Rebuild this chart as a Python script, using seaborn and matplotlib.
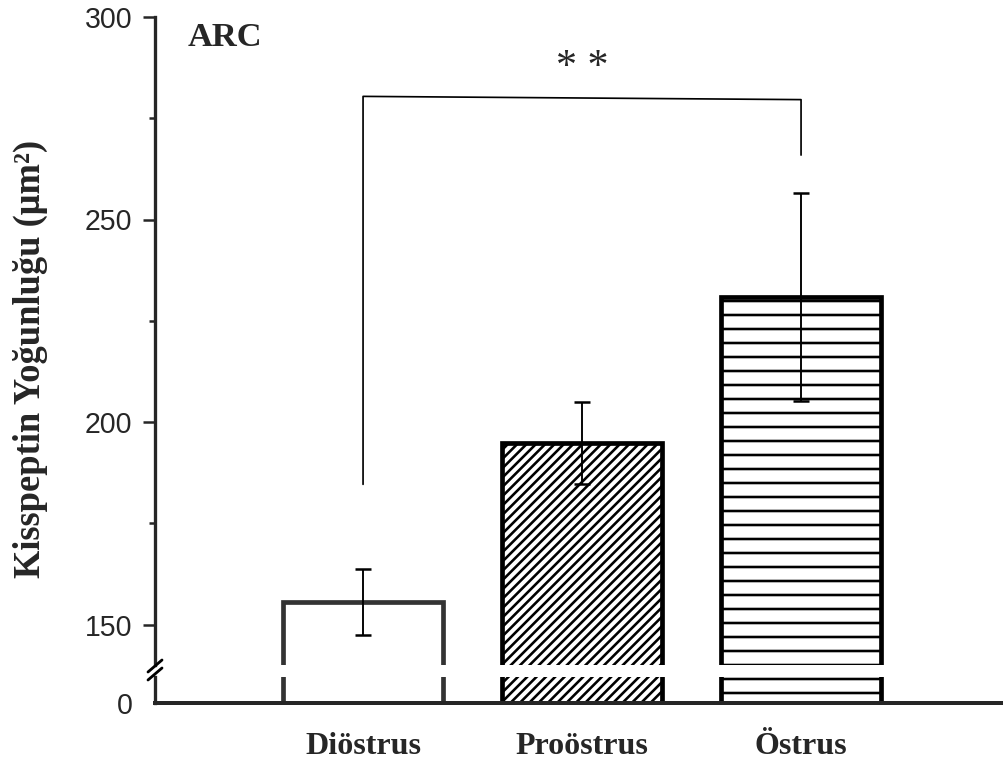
import matplotlib
matplotlib.use("Agg")
import matplotlib.pyplot as plt
from matplotlib.lines import Line2D
import pandas as pd
import seaborn as sns

# ---- data ----
categories = ["Diöstrus", "Proöstrus", "Östrus"]
means = [155.5, 194.8, 230.9]
sems = [8.2, 10.2, 25.6]
hatches = ["", "///", "-"]
edge_colors = ["#333333", "#000000", "#000000"]
yticks_major = [150, 200, 250, 300]
yticks_minor = [175, 225, 275]
bracket_x = [0, 0, 2, 2]
bracket_y = [184.6, 280.4, 279.6, 265.9]
sig_label = "* *"
panel_label = "ARC"
ylabel_text = "Kisspeptin Yoğunluğu (μm²)"

DPI = 84


def px(v):
    """pixels -> points at the figure dpi"""
    return v * 72.0 / DPI


sns.set_style("ticks")
plt.rcParams["hatch.linewidth"] = px(2.6)
plt.rcParams["font.family"] = ["Liberation Sans", "DejaVu Sans"]

W, H = 1006, 765
fig = plt.figure(figsize=(W / DPI, H / DPI), dpi=DPI)

left = 155 / W
right = 1001 / W
ax_top = fig.add_axes([left, 1 - 665 / H, right - left, (665 - 17) / H])
ax_bot = fig.add_axes([left, 1 - 703 / H, right - left, (703 - 677) / H])

df = pd.DataFrame({"phase": categories, "value": means})

for ax in (ax_top, ax_bot):
    sns.barplot(data=df, x="phase", y="value", hue="phase", order=categories,
                hue_order=categories, palette=["white"] * 3, legend=False,
                width=0.73, errorbar=None, saturation=1, ax=ax)
    for patch, h, ec in zip(ax.patches, hatches, edge_colors):
        patch.set_hatch(h)
        patch.set_edgecolor(ec)
        patch.set_linewidth(px(4.7))
        patch.set_facecolor("white")
    ax.set_xlim(-0.95, 2.913)
    ax.set_xlabel("")
    ax.set_ylabel("")

# error bars
ax_top.errorbar(x=list(range(len(categories))), y=means, yerr=sems, fmt="none",
                ecolor="black", elinewidth=px(1.9), capsize=px(8.3),
                capthick=px(2.5), zorder=5)

# top axis
ax_top.set_ylim(140, 300)
ax_top.set_yticks(yticks_major)
ax_top.set_yticks(yticks_minor, minor=True)
ax_top.set_yticklabels([str(v) for v in yticks_major])
ax_top.tick_params(axis="y", which="major", length=px(12), width=px(2.5),
                   pad=px(10.4), labelsize=px(28.5), direction="out")
ax_top.tick_params(axis="y", which="minor", length=px(6), width=px(2.5),
                   direction="out")
ax_top.tick_params(axis="x", bottom=False, labelbottom=False)
for s in ("top", "right", "bottom"):
    ax_top.spines[s].set_visible(False)
ax_top.spines["left"].set_linewidth(px(3.3))

# bottom axis
ax_bot.set_ylim(0, 26 / 4.047)
ax_bot.set_yticks([0])
ax_bot.set_yticklabels(["0"])
ax_bot.tick_params(axis="y", length=0, pad=px(22.6), labelsize=px(28.5))
ax_bot.set_xticks(range(len(categories)))
ax_bot.set_xticklabels(categories, fontfamily="Liberation Serif",
                       fontweight="bold", fontsize=px(32))
ax_bot.tick_params(axis="x", length=0, pad=px(29))
for s in ("top", "right"):
    ax_bot.spines[s].set_visible(False)
ax_bot.spines["left"].set_linewidth(px(3.3))
ax_bot.spines["bottom"].set_linewidth(px(4.0))

# significance bracket
ax_top.plot(bracket_x, bracket_y, color="black", lw=px(1.7), clip_on=False, zorder=6)
ax_top.text(1.0, 284.9, sig_label, ha="center", va="baseline", fontsize=px(42),
            fontfamily="Liberation Serif")

# panel label
ax_top.text(-0.8, 295, panel_label, ha="left", va="center", fontsize=px(34.5),
            fontweight="bold", fontfamily="Liberation Serif")

# y label
fig.text(30 / W, 1 - 359 / H, ylabel_text, rotation=90, ha="center", va="center",
         fontsize=px(36.5), fontweight="bold", fontfamily="Liberation Serif")

# axis break marks
for y0 in (672, 680):
    fig.add_artist(Line2D([148 / W, 162 / W], [1 - y0 / H, 1 - (y0 - 12) / H],
                          color="black", lw=px(2.8), transform=fig.transFigure))

fig.savefig("out.png", dpi=DPI)
